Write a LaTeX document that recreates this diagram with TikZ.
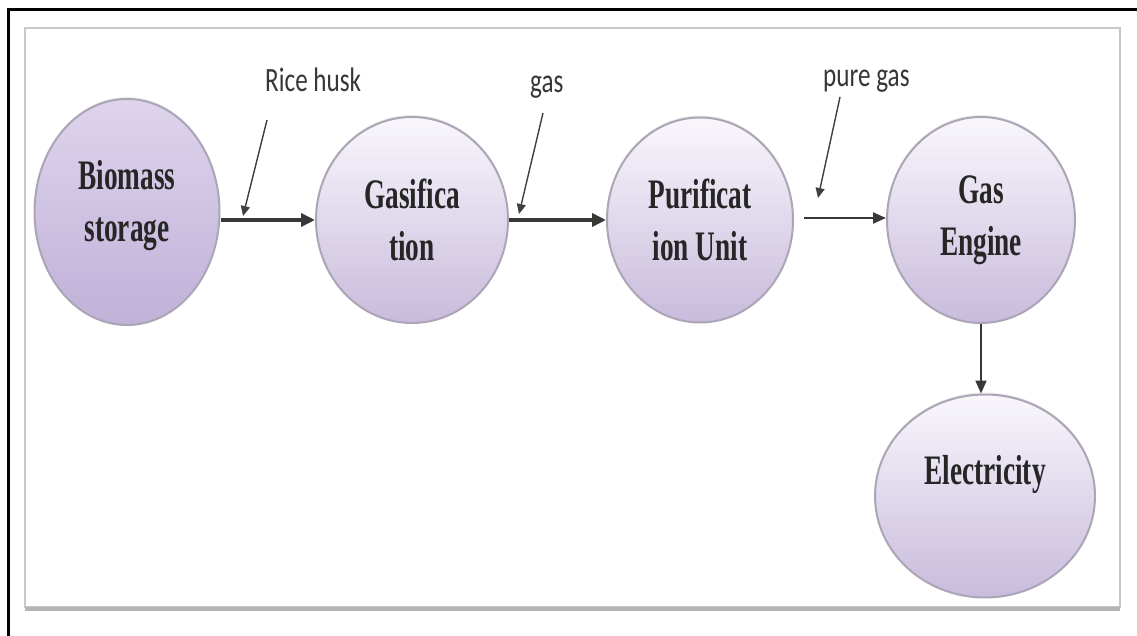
\documentclass[tikz,border=0pt]{standalone}
\usepackage{fontspec}
\setmainfont{Liberation Serif}
\newfontfamily\nodefont[FakeStretch=0.65]{Liberation Serif}
\newfontfamily\labfont[FakeStretch=0.74]{Carlito}
\usetikzlibrary{shapes.geometric,arrows.meta,shadows}
\definecolor{procTop}{RGB}{249,247,252}
\definecolor{procBot}{RGB}{200,187,220}
\definecolor{bioTop}{RGB}{222,212,237}
\definecolor{bioBot}{RGB}{192,177,216}
\definecolor{rimCol}{RGB}{172,165,182}
\definecolor{frameCol}{RGB}{200,200,200}
\definecolor{labCol}{RGB}{55,55,55}
\tikzset{
  proc/.style={ellipse, draw=rimCol, line width=2pt, top color=procTop, bottom color=procBot,
    inner sep=0pt, align=center, text=black!85,
    font=\nodefont\bfseries\fontsize{42}{52}\selectfont,
    drop shadow={opacity=0.15, shadow xshift=0pt, shadow yshift=2pt}},
  lab/.style={inner sep=0pt, anchor=base west, text=labCol, font=\labfont\fontsize{34}{38}\selectfont},
  flow/.style={-{Triangle[length=14pt,width=13pt]}, line width=3.5pt, draw=black!78},
  thinflow/.style={-{Triangle[length=13pt,width=11pt]}, line width=2pt, draw=black!78},
  ptr/.style={-{Triangle[length=10pt,width=9pt]}, line width=1.4pt, draw=black!75}
}
\begin{document}
\begin{tikzpicture}[x=1pt,y=-1pt]
\useasboundingbox (0,0) rectangle (1137,636);
\fill[white] (0,0) rectangle (1137,636);
% outer black border (top and left)
\draw[black, line width=3pt] (8,636) -- (8,10) -- (1137,10);
% inner grey frame
\draw[frameCol, line width=2.5pt] (25,28) rectangle (1120,607);
\draw[frameCol!90!black, line width=4pt] (25,609) -- (1120,609);

% process nodes
\node[proc, top color=bioTop, bottom color=bioBot, minimum width=185pt, minimum height=226pt]
  (bio) at (127,212) {Biomass\\storage\rule[-22pt]{0pt}{0pt}};
\node[proc, minimum width=192pt, minimum height=206pt] (gsf) at (412,220) {Gasifica\\tion};
\node[proc, minimum width=186pt, minimum height=205pt] (pur) at (700,220) {Purificat\\ion Unit};
\node[proc, minimum width=188pt, minimum height=206pt] (eng) at (981,220) {Gas\\Engine};
\node[proc, minimum width=220pt, minimum height=203pt] (ele) at (985,496) {Electricity\\\mbox{}};

% labels
\node[lab] (lrice) at (265,92) {Rice husk};
\node[lab] (lgas) at (530,93) {gas};
\node[lab] (lpure) at (823,87) {pure gas};

% pointer ends on the flow lines
\coordinate (price) at (243,216);
\coordinate (pgas) at (519,214);
\coordinate (ppure) at (818,198);

% main flow arrows
\draw[flow] (bio.east |- gsf.west) -- (gsf.west);
\draw[flow] (gsf.east) -- (pur.west);
\draw[thinflow] ([xshift=10pt]pur.east |- 0,218) -- (eng.west |- 0,218);
\draw[thinflow] (eng.south) -- (eng.south |- ele.north);

% pointers from labels
\draw[ptr] ([shift={(2,28)}]lrice.base west) -- (price);
\draw[ptr] ([shift={(13,20)}]lgas.base west) -- (pgas);
\draw[ptr] ([shift={(17,10)}]lpure.base west) -- (ppure);
\end{tikzpicture}
\end{document}
